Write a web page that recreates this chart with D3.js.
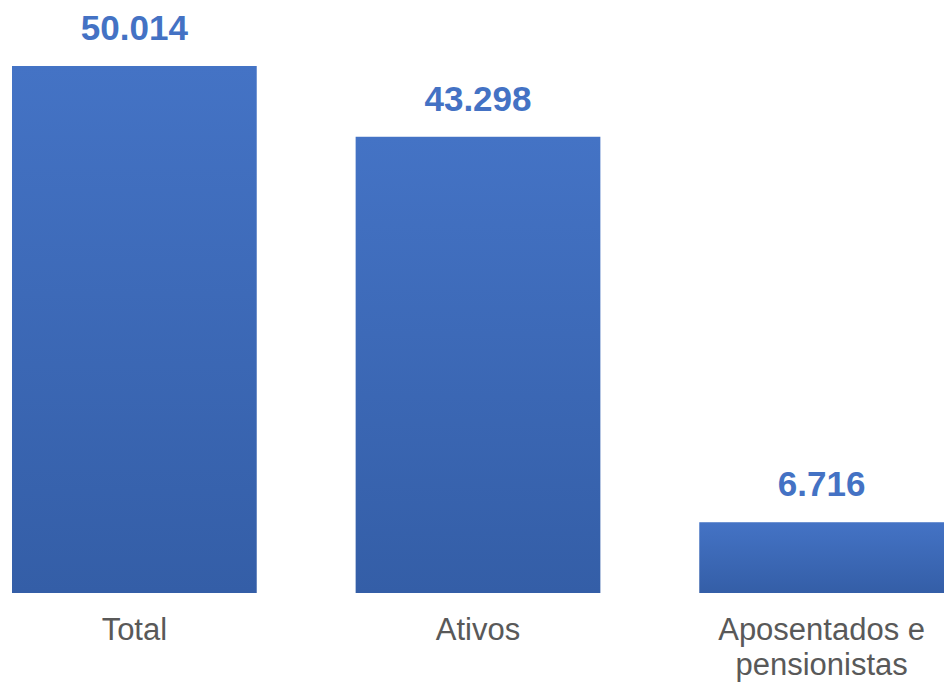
<!DOCTYPE html>
<html>
<head>
<meta charset="utf-8">
<script src="https://cdn.jsdelivr.net/npm/d3@7"></script>
<style>
  body { margin: 0; background: #fff; }
  svg { display: block; }
</style>
</head>
<body>
<div id="chart"></div>
<script>
var categories = ["Total", "Ativos", "Aposentados e pensionistas"];
var values = [50014, 43298, 6716];
var valueLabels = ["50.014", "43.298", "6.716"];
// how each category label breaks into lines
var labelLines = [["Total"], ["Ativos"], ["Aposentados e", "pensionistas"]];

var width = 944, height = 683;
var baseY = 593, topY = 66;

var svg = d3.select("#chart").append("svg")
    .attr("width", width)
    .attr("height", height);

var defs = svg.append("defs");
var grad = defs.append("linearGradient")
    .attr("id", "barGrad")
    .attr("x1", 0).attr("y1", 0)
    .attr("x2", 0).attr("y2", 1);
grad.append("stop").attr("offset", "0%").attr("stop-color", "#4473C5");
grad.append("stop").attr("offset", "100%").attr("stop-color", "#345EA7");

var x = d3.scaleBand()
    .domain(categories)
    .range([12, 944])
    .paddingInner(0.2878)
    .paddingOuter(0);

var y = d3.scaleLinear()
    .domain([0, d3.max(values)])
    .range([baseY, topY]);

var data = categories.map(function(c, i) {
  return {cat: c, val: values[i], lab: valueLabels[i], lines: labelLines[i]};
});

// bars
svg.selectAll("rect.bar")
    .data(data)
    .enter()
    .append("rect")
    .attr("class", "bar")
    .attr("x", function(d) { return x(d.cat); })
    .attr("y", function(d) { return y(d.val); })
    .attr("width", x.bandwidth())
    .attr("height", function(d) { return baseY - y(d.val); })
    .attr("fill", "url(#barGrad)");

// value labels above bars
svg.selectAll("text.val")
    .data(data)
    .enter()
    .append("text")
    .attr("class", "val")
    .attr("x", function(d) { return x(d.cat) + x.bandwidth() / 2; })
    .attr("y", function(d) { return y(d.val) - 26; })
    .attr("text-anchor", "middle")
    .attr("font-family", "Liberation Sans, Arial, sans-serif")
    .attr("font-weight", "bold")
    .attr("font-size", "35px")
    .attr("fill", "#4472C4")
    .text(function(d) { return d.lab; });

// category labels
var cat = svg.selectAll("text.cat")
    .data(data)
    .enter()
    .append("text")
    .attr("class", "cat")
    .attr("text-anchor", "middle")
    .attr("font-family", "Liberation Sans, Arial, sans-serif")
    .attr("font-size", "31px")
    .attr("fill", "#595959");

cat.selectAll("tspan")
    .data(function(d) {
      return d.lines.map(function(l, j) { return {cx: x(d.cat) + x.bandwidth() / 2, t: l, j: j}; });
    })
    .enter()
    .append("tspan")
    .attr("x", function(d) { return d.cx; })
    .attr("y", function(d) { return baseY + 47 + d.j * 35; })
    .text(function(d) { return d.t; });
</script>
</body>
</html>
